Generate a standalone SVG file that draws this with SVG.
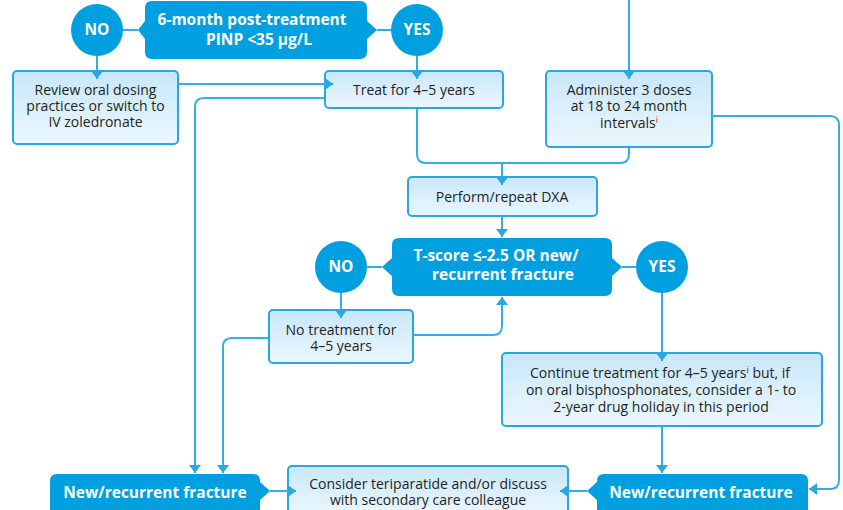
<svg xmlns="http://www.w3.org/2000/svg" width="843" height="510" viewBox="0 0 843 510">
<defs>
<linearGradient id="lg" x1="0" y1="0" x2="0" y2="1">
<stop offset="0" stop-color="#c8e7f9"/>
<stop offset="1" stop-color="#ecf7fe"/>
</linearGradient>
<marker id="ah" viewBox="0 0 8 12" refX="8" refY="6" markerWidth="8" markerHeight="12" markerUnits="userSpaceOnUse" orient="auto">
<path d="M0,0 L8,6 L0,12 Z" fill="#29a8e0"/>
</marker>
<style>
.lb{fill:url(#lg);stroke:#2aa7e0;stroke-width:2}
.db{fill:#009fe0}
.c{fill:#009fe0}
.t{font-family:"Open Sans","Liberation Sans",sans-serif;font-size:14px;fill:#231f20;text-anchor:middle}
.w{font-family:"Open Sans","Liberation Sans",sans-serif;font-size:15.5px;font-weight:bold;fill:#ffffff;text-anchor:middle}
.cn{fill:none;stroke:#35ade3;stroke-width:2}
.a{marker-end:url(#ah)}
.sup{font-size:9px;fill:#c8102e}
</style>
</defs>
<rect width="843" height="510" fill="#ffffff"/>

<g id="decision1">
<path class="db" d="M152,1 H360 Q367,1 367,8 V21 L377,30 L367,39 V52 Q367,59 360,59 H152 Q145,59 145,52 V39 L138,30 L145,21 V8 Q145,1 152,1 Z"/>
<text class="w" x="252" y="25">6-month post-treatment</text>
<text class="w" x="259" y="45">PINP &lt;35 µg/L</text>
</g>
<g id="no1">
<circle class="c" cx="97" cy="30" r="26"/>
<text class="w" x="97" y="35">NO</text>
</g>
<g id="yes1">
<circle class="c" cx="417" cy="30" r="26"/>
<text class="w" x="417" y="35">YES</text>
</g>
<g id="review">
<rect class="lb" x="13" y="71" width="165" height="73" rx="4"/>
<text class="t" x="95.5" y="95">Review oral dosing</text>
<text class="t" x="95.5" y="111">practices or switch to</text>
<text class="t" x="95.5" y="127">IV zoledronate</text>
</g>
<g id="treat">
<rect class="lb" x="325" y="71" width="178" height="37" rx="4"/>
<text class="t" x="414" y="95">Treat for 4–5 years</text>
</g>
<g id="administer">
<rect class="lb" x="546" y="71" width="166" height="76" rx="4"/>
<text class="t" x="629" y="95">Administer 3 doses</text>
<text class="t" x="629" y="111">at 18 to 24 month</text>
<text class="t" x="629" y="128">intervals<tspan class="sup" dy="-5">i</tspan></text>
</g>
<g id="dxa">
<rect class="lb" x="408" y="177" width="189" height="39" rx="4"/>
<text class="t" x="502" y="202">Perform/repeat DXA</text>
</g>
<g id="decision2">
<path class="db" d="M399,238 H605 Q612,238 612,245 V258 L622,267 L612,276 V289 Q612,296 605,296 H399 Q392,296 392,289 V276 L382,267 L392,258 V245 Q392,238 399,238 Z"/>
<text class="w" x="496" y="261">T-score ≤-2.5 OR new/</text>
<text class="w" x="503" y="280">recurrent fracture</text>
</g>
<g id="no2">
<circle class="c" cx="341" cy="267" r="26"/>
<text class="w" x="341" y="272">NO</text>
</g>
<g id="yes2">
<circle class="c" cx="662" cy="267" r="26"/>
<text class="w" x="662" y="272">YES</text>
</g>
<g id="notreat">
<rect class="lb" x="269" y="310" width="144" height="53" rx="4"/>
<text class="t" x="341" y="335">No treatment for</text>
<text class="t" x="341" y="351">4–5 years</text>
</g>
<g id="continue">
<rect class="lb" x="502" y="353" width="320" height="73" rx="4"/>
<text class="t" x="660" y="378">Continue treatment for 4–5 years<tspan class="sup" dy="-5" style="fill:#2b2a6e">i</tspan><tspan dy="5"> but, if</tspan></text>
<text class="t" x="661" y="395">on oral bisphosphonates, consider a 1- to</text>
<text class="t" x="661" y="412">2-year drug holiday in this period</text>
</g>
<g id="newfracture-left">
<path class="db" d="M57,474 H253 Q260,474 260,481 V482 L270,491 L260,500 V512 H50 V481 Q50,474 57,474 Z"/>
<text class="w" x="155" y="498">New/recurrent fracture</text>
</g>
<g id="consider">
<rect class="lb" x="288" y="466" width="280" height="50" rx="4"/>
<text class="t" x="428" y="489">Consider teriparatide and/or discuss</text>
<text class="t" x="428" y="505">with secondary care colleague</text>
</g>
<g id="newfracture-right">
<path class="db" d="M604,474 H801 Q808,474 808,481 V512 H597 V500 L587,491 L597,482 V481 Q597,474 604,474 Z"/>
<text class="w" x="701" y="498">New/recurrent fracture</text>
</g>

<g id="connectors">
<path class="cn" d="M138,30 H123"/>
<path class="cn" d="M377,30 H391"/>
<path class="cn a" d="M97,56 V79"/>
<path class="cn a" d="M417,56 V79"/>
<path class="cn a" d="M178,84 H333"/>
<path class="cn a" d="M325,98 H204 Q195,98 195,107 V473"/>
<path class="cn a" d="M269,338 H232 Q223,338 223,347 V473"/>
<path class="cn" d="M417,108 V154 Q417,163 426,163 H620 Q629,163 629,154 V147"/>
<path class="cn a" d="M502,163 V185"/>
<path class="cn a" d="M629,0 V79"/>
<path class="cn a" d="M712,116 H830 Q839,116 839,125 V480 Q839,489 830,489 H809"/>
<path class="cn a" d="M502,216 V237"/>
<path class="cn" d="M382,267 H367"/>
<path class="cn" d="M622,267 H636"/>
<path class="cn a" d="M341,293 V318"/>
<path class="cn a" d="M413,335 H493 Q502,335 502,326 V297"/>
<path class="cn a" d="M662,293 V361"/>
<path class="cn a" d="M662,426 V473"/>
<path class="cn a" d="M270,491 H296"/>
<path class="cn a" d="M587,491 H560"/>
</g>
</svg>
